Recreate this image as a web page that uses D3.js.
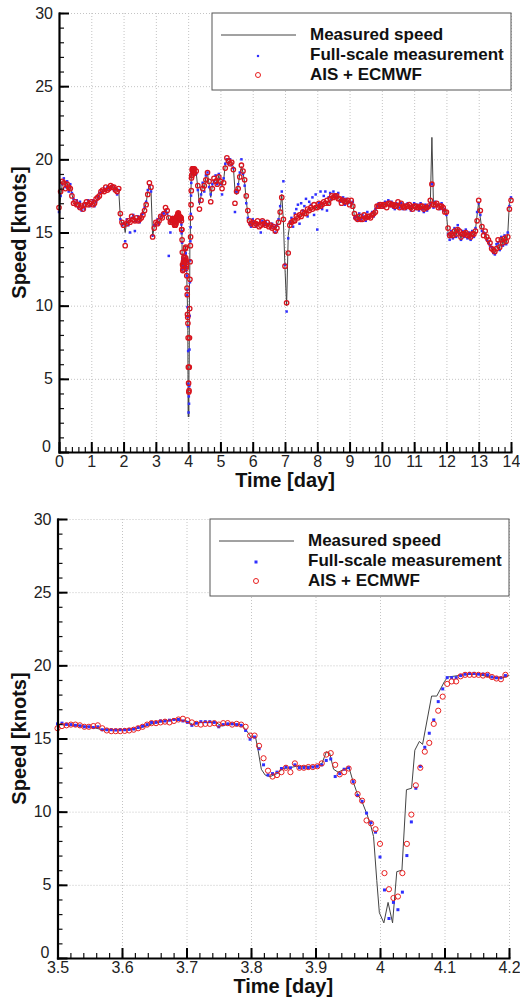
<!DOCTYPE html>
<html>
<head>
<meta charset="utf-8">
<script src="https://cdn.jsdelivr.net/npm/d3@7"></script>
<style>
body { margin: 0; background: #fff; }
svg text { font-family: "Liberation Sans", Arial, Helvetica, sans-serif; }
</style>
</head>
<body>
<script>
// Ship speed over a 14 day voyage, plus a zoom on the stop around day 4

var width = 520;
var height = 999;

// Top panel: one sample every 0.05 day from day 0.
// null where the finer 10-minute record (bottom panel) is used instead (day 3.5 - 4.2)
var topStep = 0.05;

var topSpeed = [
  16.5, 17.4, 18.3, 18.6, 18.2, 18.4, 17.9, 18.2, 17.6, 17.2, 17.0, 17.1, 16.8, 17.0, 16.6, 16.8, 16.7, 17.0, 17.1, 16.9,
  17.0, 17.1, 16.9, 17.2, 17.3, 17.6, 17.8, 17.7, 17.9, 18.0, 18.0, 18.1, 18.1, 18.2, 18.0, 18.1, 17.8, 17.9, 16.0, 15.6,
  15.7, 15.0, 15.8, 15.6, 15.9, 16.0, 16.1, 15.7, 15.9, 16.0, 15.8, 16.1, 16.3, 16.6, 17.0, 17.8, 18.3, 17.9, 14.7, 15.4,
  15.6, 15.8, 15.7, 16.0, 16.2, 16.4, 16.6, 16.4, 15.9, 15.6, null, null, null, null, null, null, null, null, null, null,
  null, null, null, null, null, 19.1, 18.0, 16.9, 17.5, 18.3, 18.0, 18.8, 19.0, 18.3, 17.4, 18.2, 18.6, 18.7, 18.4, 18.9,
  18.4, 18.2, 18.6, 19.6, 20.0, 19.8, 19.9, 19.7, 19.5, 17.9, 17.6, 18.2, 19.0, 19.5, 19.1, 18.4, 17.2, 16.2, 15.7, 15.5,
  15.8, 15.6, 15.5, 15.7, 15.5, 15.6, 15.7, 15.5, 15.6, 15.6, 15.5, 15.4, 15.5, 15.3, 15.2, 15.4, 15.8, 16.6, 17.6, 15.8,
  12.5, 10.0, 14.8, 15.6, 15.8, 15.7, 15.9, 16.0, 16.1, 16.0, 16.2, 16.3, 16.2, 16.4, 16.5, 16.6, 16.5, 16.7, 16.8, 16.6,
  16.8, 16.9, 16.7, 17.0, 16.9, 17.1, 17.0, 16.9, 17.2, 17.4, 17.5, 17.3, 17.6, 17.4, 17.2, 17.1, 17.3, 17.0, 17.2, 17.1,
  17.0, 17.1, 17.0, 16.1, 15.9, 16.0, 16.2, 15.8, 16.0, 16.1, 15.9, 16.2, 16.0, 16.1, 16.3, 16.2, 16.5, 16.7, 16.9, 16.8,
  16.9, 16.8, 17.0, 16.8, 17.1, 16.9, 17.0, 16.8, 16.7, 16.9, 17.0, 16.8, 16.9, 16.7, 16.8, 16.7, 16.9, 16.8, 16.6, 16.7,
  16.9, 16.7, 16.8, 16.6, 16.9, 16.7, 16.5, 16.8, 16.6, 16.7, 16.9, 21.5, 16.8, 17.0, 16.9, 16.8, 16.7, 16.9, 16.6, 16.5,
  16.3, 15.0, 14.6, 15.0, 14.7, 15.2, 14.8, 15.3, 15.0, 14.6, 15.0, 14.8, 15.1, 14.7, 14.9, 14.6, 15.0, 14.8, 15.2, 16.2,
  17.1, 16.0, 15.2, 14.9, 15.0, 14.6, 14.4, 14.2, 14.0, 13.7, 13.6, 14.1, 14.4, 13.9, 14.6, 14.2, 14.7, 14.3, 14.9, 17.0, 17.3
];

var topFull = [
  16.4, 17.5, 18.3, 18.7, 18.1, 18.5, 17.8, 18.3, 17.7, 17.3, 16.9, 17.2, 16.7, 17.1, 16.5, 16.9, 16.6, 17.0, 17.2, 16.8,
  16.9, 17.2, 16.8, 17.1, 17.4, 17.7, 17.7, 17.8, 18.0, 17.9, 18.1, 18.0, 18.1, 18.2, 17.9, 18.0, 17.6, 17.9, 15.9, 15.5,
  15.6, 14.4, 15.9, 15.5, 15.0, 16.0, 16.2, 15.1, 15.8, 16.1, 15.7, 16.2, 16.3, 16.7, 17.1, 17.9, 18.2, 17.8, 14.8, 15.5,
  15.5, 15.9, 15.6, 16.1, 16.3, 16.3, 16.5, 16.3, 13.4, 15.0, null, null, null, null, null, null, null, null, null, null,
  null, null, null, null, null, 19.0, 17.9, 17.1, 17.6, 18.4, 17.8, 18.9, 19.1, 18.1, 17.6, 18.3, 18.5, 18.9, 18.3, 19.0,
  18.3, 17.6, 18.7, 19.7, 20.0, 19.7, 20.0, 19.6, 19.4, 16.4, 17.8, 18.3, 19.1, 20.0, 19.0, 18.2, 17.0, 16.0, 15.6, 15.4,
  15.9, 15.7, 15.4, 15.6, 15.6, 15.0, 15.8, 15.5, 15.7, 15.5, 15.6, 15.3, 15.6, 15.4, 15.0, 15.5, 15.9, 16.8, 17.8, 18.5,
  12.8, 9.6, 14.6, 15.7, 16.0, 15.4, 16.3, 16.6, 16.9, 15.6, 17.0, 16.5, 16.8, 17.3, 16.1, 17.1, 16.9, 17.4, 16.2, 17.6,
  15.2, 17.0, 17.8, 16.6, 17.5, 17.8, 16.5, 17.4, 17.7, 17.3, 17.8, 17.6, 17.4, 17.7, 17.1, 17.2, 17.4, 16.9, 17.3, 17.0,
  17.1, 17.0, 17.1, 16.0, 16.1, 15.8, 16.3, 15.9, 16.2, 16.0, 15.8, 16.4, 16.0, 16.2, 16.4, 16.1, 16.6, 16.8, 17.0, 16.7,
  17.0, 16.7, 17.1, 16.9, 17.2, 16.8, 17.1, 16.7, 16.6, 17.0, 16.9, 16.7, 17.0, 16.6, 16.9, 16.6, 17.0, 16.7, 16.5, 16.8,
  17.0, 16.6, 16.9, 16.5, 17.0, 16.6, 16.4, 16.9, 16.5, 16.8, 17.0, 18.3, 16.7, 17.1, 16.8, 16.9, 16.6, 17.0, 16.5, 16.6,
  16.2, 14.9, 14.5, 15.1, 14.6, 15.3, 14.7, 15.5, 14.9, 14.5, 15.1, 14.7, 15.2, 14.6, 15.0, 14.5, 15.1, 14.7, 15.3, 16.4,
  17.0, 16.2, 15.1, 15.0, 14.9, 14.5, 14.3, 14.1, 14.0, 13.6, 13.5, 14.2, 14.3, 13.8, 14.7, 14.1, 14.8, 14.2, 15.0, 16.8, 17.4
];

var topAis = [
  16.7, 17.8, 18.5, 18.4, 18.0, 18.3, 18.1, 18.0, 17.5, 17.0, 17.1, 16.9, 16.9, 16.7, 16.8, 16.6, 16.9, 17.1, 16.9, 17.0,
  17.1, 16.9, 17.0, 17.3, 17.4, 17.5, 17.8, 17.9, 17.8, 18.1, 17.9, 18.0, 18.2, 18.1, 18.1, 17.9, 17.8, 18.0, 16.3, 15.7,
  15.5, 14.1, 15.6, 15.8, 15.7, 16.1, 15.9, 15.8, 16.0, 15.8, 15.9, 16.0, 16.2, 16.5, 16.9, 17.6, 18.4, 18.1, 14.7, 15.3,
  15.7, 15.6, 15.8, 16.1, 16.0, 16.3, 16.7, 16.5, 16.0, 15.7, null, null, null, null, null, null, null, null, null, null,
  null, null, null, null, null, 19.2, 18.2, 16.6, 17.2, 18.0, 18.2, 18.6, 19.1, 18.5, 17.1, 18.0, 18.7, 18.5, 18.3, 18.8,
  18.5, 18.0, 18.4, 19.4, 20.1, 19.9, 19.7, 19.8, 19.3, 17.0, 17.8, 18.0, 18.8, 19.6, 19.2, 18.6, 17.5, 16.5, 15.8, 15.6,
  15.7, 15.5, 15.6, 15.8, 15.4, 15.5, 15.8, 15.6, 15.5, 15.7, 15.4, 15.5, 15.3, 15.4, 15.1, 15.3, 15.7, 16.4, 17.4, 15.9,
  12.7, 10.2, 13.6, 15.5, 15.7, 15.8, 15.8, 16.1, 16.0, 16.2, 16.1, 16.4, 16.3, 16.3, 16.6, 16.5, 16.7, 16.6, 16.9, 16.7,
  16.7, 17.0, 16.8, 16.9, 17.1, 17.0, 17.2, 17.0, 17.3, 17.5, 17.4, 17.5, 17.5, 17.3, 17.3, 17.0, 17.2, 17.1, 17.1, 17.2,
  16.9, 17.2, 16.8, 16.3, 16.0, 15.9, 16.1, 15.9, 15.9, 16.2, 16.0, 16.1, 16.1, 16.0, 16.2, 16.3, 16.4, 16.8, 16.8, 16.9,
  16.8, 16.9, 16.9, 16.7, 17.0, 17.0, 16.9, 16.9, 16.8, 16.8, 17.1, 16.7, 17.0, 16.8, 16.7, 16.8, 16.8, 16.9, 16.7, 16.6,
  16.8, 16.8, 16.7, 16.7, 16.8, 16.8, 16.6, 16.7, 16.7, 16.8, 17.2, 18.3, 16.9, 16.9, 17.0, 16.7, 16.8, 16.8, 16.7, 16.4,
  16.4, 15.3, 14.8, 14.9, 14.8, 15.1, 14.9, 15.2, 15.1, 14.7, 14.9, 14.9, 15.0, 14.8, 14.8, 14.7, 14.9, 14.9, 15.1, 15.8,
  17.2, 16.5, 15.4, 14.8, 15.1, 14.7, 14.5, 14.3, 13.9, 13.8, 13.7, 13.9, 14.5, 14.0, 14.5, 14.3, 14.6, 14.4, 14.7, 16.6, 17.2
];

// Zoom window: 10-minute samples starting at day 3.5
var zoomStart = 3.5;
var zoomStep = 1 / 144;

var zoomFull = [
  16.0, 16.05, 15.97, 15.95, 15.9, 15.87, 15.8, 15.8, 15.75, 15.8,
  15.6, 15.6, 15.6, 15.58, 15.6, 15.6, 15.62, 15.65, 15.75, 15.85,
  15.95, 16.1, 16.1, 16.2, 16.2, 16.25, 16.3, 16.3, 16.2, 16.1,
  15.9, 16.05, 16.15, 16.15, 16.15, 16.1, 15.8, 15.95, 16.0, 16.0,
  15.95, 15.9, 15.55, 14.95, 15.1, 14.3, 13.2, 12.5, 12.6, 12.7,
  12.95, 13.05, 13.0, 13.2, 13.0, 13.0, 13.0, 13.05, 13.1, 13.2,
  13.5, 13.6, 12.4, 12.6, 12.9, 13.0, 12.05, 11.1, 10.7, 9.9,
  9.25, 8.6, 6.9, 4.65, 2.7, 3.8, 3.3, 4.5, 7.0, 9.3,
  11.6, 13.1, 14.4, 15.36, 16.27, 17.52, 18.39, 19.16, 19.16, 19.16,
  19.3, 19.4, 19.45, 19.45, 19.4, 19.4, 19.35, 19.2, 19.15, 19.15,
  19.3
];

var zoomAis = [
  15.7, 15.85, 15.9, 15.95, 15.95, 15.9, 15.8, 15.8, 15.85, 15.9,
  15.7, 15.55, 15.5, 15.5, 15.5, 15.52, 15.55, 15.6, 15.7, 15.8,
  15.95, 16.05, 16.05, 16.1, 16.15, 16.1, 16.2, 16.3, 16.35, 16.25,
  16.1, 16.0, 15.95, 16.0, 16.0, 16.05, 15.95, 16.05, 16.05, 15.95,
  16.0, 15.95, 15.8, 15.2, 15.2, 14.5, 13.65, 12.8, 12.4, 12.5,
  12.7, 13.0, 12.7, 13.3, 13.0, 13.0, 13.05, 13.05, 13.1, 13.3,
  13.9, 14.0, 13.2, 12.55, 12.7, 12.95, 12.05, 11.2, 10.75, 9.4,
  9.2, 8.8, 7.8, 5.8, 4.7, 4.1, 4.2, 5.8, 7.8, 9.8,
  11.8, 13.0, 14.1, 14.7, 16.0, 16.9, 17.86, 18.73, 18.9, 18.9,
  19.25, 19.35, 19.35, 19.35, 19.35, 19.3, 19.35, 19.2, 19.1, 19.05,
  19.35
];

// Measured speed trace in the zoom window (vertices)
var zoomLineTime = [
  3.5, 3.53, 3.55, 3.57, 3.61, 3.63, 3.65, 3.68, 3.70, 3.71,
  3.72, 3.745, 3.755, 3.765, 3.785, 3.792, 3.80, 3.807, 3.811, 3.816,
  3.822, 3.83, 3.84, 3.85, 3.86, 3.87, 3.90, 3.91, 3.917, 3.922,
  3.928, 3.935, 3.945, 3.952, 3.958, 3.965, 3.972, 3.98, 3.986, 3.99,
  3.995, 3.999, 4.006, 4.0125, 4.0195, 4.026, 4.034, 4.041, 4.049, 4.054,
  4.061, 4.066, 4.08, 4.088, 4.10, 4.105, 4.13, 4.15, 4.17, 4.19,
  4.2
];
var zoomLineSpeed = [
  15.95, 15.9, 15.8, 15.6, 15.6, 15.75, 16.05, 16.3, 16.2, 15.95,
  16.1, 16.1, 15.85, 16.0, 15.95, 15.6, 15.1, 15.1, 14.2, 12.9,
  12.5, 12.4, 12.6, 12.95, 13.0, 13.1, 13.1, 13.3, 14.1, 14.0,
  12.9, 12.7, 12.9, 13.0, 12.1, 11.2, 10.7, 9.8, 9.0, 8.3,
  5.3, 3.1, 2.4, 3.8, 2.4, 5.9, 6.0, 11.5, 11.6, 14.2,
  14.8, 14.6, 17.9, 17.9, 18.9, 19.2, 19.35, 19.4, 19.2, 19.15,
  19.3
];

var yTicks = [0, 5, 10, 15, 20, 25, 30];
var topXTicks = [0, 1, 2, 3, 4, 5, 6, 7, 8, 9, 10, 11, 12, 13, 14];
var zoomXTicks = [3.5, 3.6, 3.7, 3.8, 3.9, 4, 4.1, 4.2];
var legendLabels = ["Measured speed", "Full-scale measurement", "AIS + ECMWF"];

var blue = "#2f2fff";
var red = "#e81e1e";
var font = '"Liberation Sans", Arial, Helvetica, sans-serif';

// build point lists
function coarse(arr) {
  var out = [];
  arr.forEach(function(v, i) {
    if (v !== null) out.push({ t: i * topStep, v: v });
  });
  return out;
}
function fine(arr) {
  return arr.map(function(v, i) { return { t: zoomStart + i * zoomStep, v: v }; });
}
var zoomLine = zoomLineTime.map(function(t, i) { return { t: t, v: zoomLineSpeed[i] }; });

function byTime(a, b) { return a.t - b.t; }
var topLinePts = coarse(topSpeed).concat(zoomLine).sort(byTime);
var topFullPts = coarse(topFull).concat(fine(zoomFull)).sort(byTime);
var topAisPts = coarse(topAis).concat(fine(zoomAis)).sort(byTime);

var svg = d3.select("body").append("svg")
    .attr("width", width)
    .attr("height", height);

function drawPanel(p) {
  var x = d3.scaleLinear().domain(p.xDomain).range([p.left, p.right]);
  var y = d3.scaleLinear().domain([0, 30]).range([p.bottom, p.top]);
  var g = svg.append("g");

  // dotted grid
  g.append("g")
    .attr("transform", "translate(0," + p.bottom + ")")
    .call(d3.axisBottom(x).tickValues(p.xTicks.slice(1)).tickSize(-(p.bottom - p.top)).tickFormat(""))
    .call(function(a) { a.select(".domain").remove(); })
    .selectAll("line").attr("stroke", "#c4c4c4").attr("stroke-dasharray", "1,2");
  g.append("g")
    .attr("transform", "translate(" + p.left + ",0)")
    .call(d3.axisLeft(y).tickValues(yTicks.slice(1)).tickSize(-(p.right - p.left)).tickFormat(""))
    .call(function(a) { a.select(".domain").remove(); })
    .selectAll("line").attr("stroke", "#c4c4c4").attr("stroke-dasharray", "1,2");

  // measured speed line
  var line = d3.line().x(function(d) { return x(d.t); }).y(function(d) { return y(d.v); });
  g.append("path")
    .datum(p.line)
    .attr("d", line)
    .attr("fill", "none")
    .attr("stroke", "#444")
    .attr("stroke-width", 1);

  // full-scale measurement (blue squares)
  g.append("g").selectAll("rect")
    .data(p.full)
    .enter()
    .append("rect")
    .attr("x", function(d) { return x(d.t) - p.sq / 2; })
    .attr("y", function(d) { return y(d.v) - p.sq / 2; })
    .attr("width", p.sq)
    .attr("height", p.sq)
    .attr("fill", blue);

  // AIS + ECMWF (red circles)
  g.append("g").selectAll("circle")
    .data(p.ais)
    .enter()
    .append("circle")
    .attr("cx", function(d) { return x(d.t); })
    .attr("cy", function(d) { return y(d.v); })
    .attr("r", p.r)
    .attr("fill", "none")
    .attr("stroke", p.red)
    .attr("stroke-width", p.sw);

  // minor ticks
  g.append("g")
    .attr("transform", "translate(0," + p.bottom + ")")
    .call(d3.axisBottom(x).tickValues(p.xMinor).tickSize(-5).tickFormat(""))
    .call(function(a) { a.select(".domain").remove(); })
    .selectAll("line").attr("stroke", "#111").attr("stroke-width", 1.2);
  g.append("g")
    .attr("transform", "translate(" + p.left + ",0)")
    .call(d3.axisLeft(y).tickValues(d3.range(0, 31, 1)).tickSize(-5).tickFormat(""))
    .call(function(a) { a.select(".domain").remove(); })
    .selectAll("line").attr("stroke", "#111").attr("stroke-width", 1.2);

  // major ticks, labels, axis lines
  var xa = g.append("g")
    .attr("transform", "translate(0," + p.bottom + ")")
    .call(d3.axisBottom(x).tickValues(p.xTicks).tickSizeInner(-10).tickSizeOuter(0).tickPadding(4)
      .tickFormat(function(d) { return String(d); }));
  var ya = g.append("g")
    .attr("transform", "translate(" + p.left + ",0)")
    .call(d3.axisLeft(y).tickValues(yTicks).tickSizeInner(-10).tickSizeOuter(0).tickPadding(6));
  [xa, ya].forEach(function(a) {
    a.attr("font-family", font).attr("font-size", 16);
    a.select(".domain").attr("stroke", "#000").attr("stroke-width", 2.2).attr("stroke-linecap", "square");
    a.selectAll(".tick line").attr("stroke", "#000").attr("stroke-width", 2);
    a.selectAll(".tick text").attr("fill", "#222");
  });
  // the "0" on the speed axis sits a little above the corner
  ya.selectAll(".tick text").filter(function(d) { return d === 0; })
    .attr("dy", "-0.02em").attr("x", -8);

  // axis titles
  g.append("text")
    .attr("x", (p.left + p.right) / 2)
    .attr("y", p.bottom + 35)
    .attr("text-anchor", "middle")
    .attr("font-size", 20)
    .attr("font-weight", "bold")
    .attr("fill", "#111")
    .text("Time [day]");
  g.append("text")
    .attr("transform", "translate(26," + ((p.top + p.bottom) / 2) + ") rotate(-90)")
    .attr("text-anchor", "middle")
    .attr("font-size", 20)
    .attr("font-weight", "bold")
    .attr("fill", "#111")
    .text("Speed [knots]");

  // legend
  var lg = g.append("g").attr("transform", "translate(" + p.legend[0] + "," + p.legend[1] + ")");
  lg.append("rect")
    .attr("x", 0).attr("y", 0)
    .attr("width", p.right - p.legend[0]).attr("height", 77)
    .attr("fill", "#fff").attr("stroke", "#555").attr("stroke-width", 1);
  lg.append("line")
    .attr("x1", 9).attr("x2", 84).attr("y1", 22).attr("y2", 22)
    .attr("stroke", "#444").attr("stroke-width", 1);
  lg.append("rect")
    .attr("x", 46 - p.lsq / 2).attr("y", 43 - p.lsq / 2)
    .attr("width", p.lsq).attr("height", p.lsq)
    .attr("fill", blue);
  lg.append("circle")
    .attr("cx", 46).attr("cy", 62).attr("r", 2.5)
    .attr("fill", "none").attr("stroke", red).attr("stroke-width", 1);
  lg.selectAll("text.lab")
    .data(legendLabels)
    .enter()
    .append("text")
    .attr("class", "lab")
    .attr("x", 98)
    .attr("y", function(d, i) { return 27 + i * 20; })
    .attr("font-size", 17)
    .attr("font-weight", "bold")
    .attr("fill", "#111")
    .text(function(d) { return d; });
}

drawPanel({
  left: 59, right: 511, top: 13, bottom: 452,
  xDomain: [0, 14],
  xTicks: topXTicks,
  xMinor: d3.range(0, 71).map(function(i) { return i * 0.2; }),
  line: topLinePts, full: topFullPts, ais: topAisPts,
  sq: 2.5, lsq: 2.2, r: 2.2, sw: 1.3, red: "#d8141e",
  legend: [212, 13]
});

drawPanel({
  left: 57.5, right: 509, top: 519, bottom: 958,
  xDomain: [3.5, 4.2],
  xTicks: zoomXTicks,
  xMinor: d3.range(0, 36).map(function(i) { return 3.5 + i * 0.02; }),
  line: zoomLine, full: fine(zoomFull), ais: fine(zoomAis),
  sq: 3, lsq: 3, r: 2.6, sw: 1, red: red,
  legend: [210, 519]
});
</script>
</body>
</html>
